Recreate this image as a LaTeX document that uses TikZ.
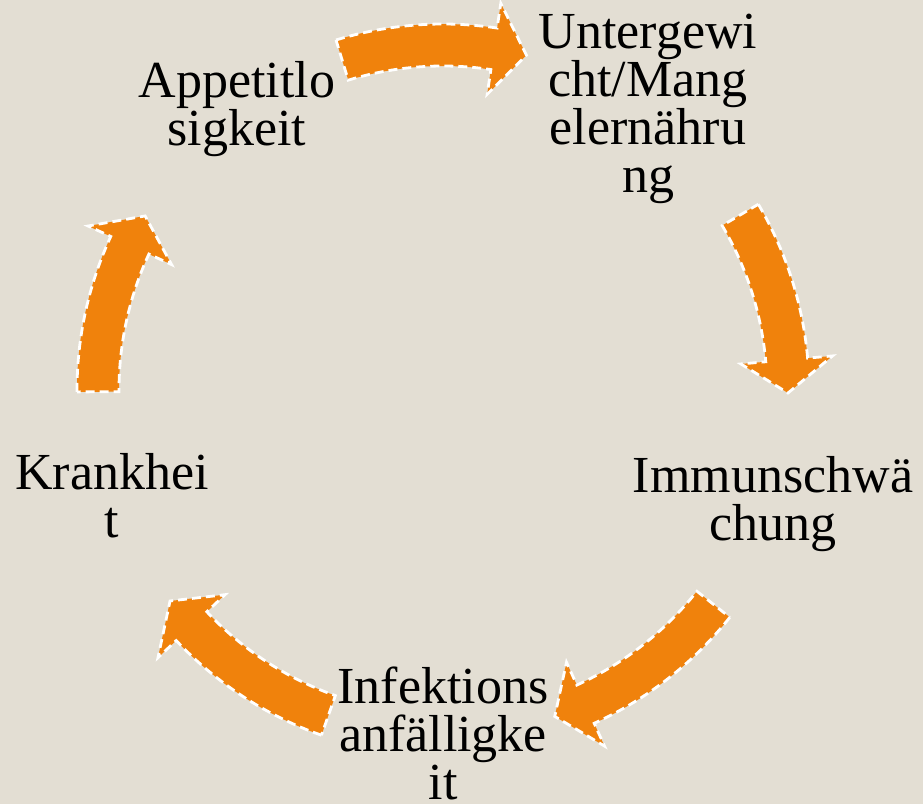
\documentclass[tikz,border=0pt]{standalone}
\usepackage{fontspec}
\setmainfont{Liberation Serif}
\definecolor{bgbeige}{RGB}{227,222,211}
\definecolor{arroworange}{RGB}{240,130,12}
\tikzset{
  cyclearrow/.style={fill=arroworange, draw=white, line width=2.8pt, dash pattern=on 9pt off 5pt, line join=miter},
  lbl/.style={align=center, anchor=base, inner sep=0pt, font=\fontsize{52}{48}\selectfont, text=black}
}
\newcommand{\cycarrow}[2]{% tail angle, tip angle
  \pgfmathsetmacro{\bangle}{#2+5.5}
  \path[cyclearrow] (#1:366) arc[start angle=#1, end angle=\bangle, radius=366]
    -- (\bangle:391) -- (#2:345) -- (\bangle:299) -- (\bangle:324)
    arc[start angle=\bangle, end angle=#1, radius=324] -- cycle;
}
\begin{document}
\begin{tikzpicture}[x=1pt,y=1pt]
\useasboundingbox (0,0) rectangle (923,804);
\fill[bgbeige] (0,0) rectangle (923,804);
\begin{scope}[shift={(443,414)}]
  \cycarrow{107}{76}
  \cycarrow{30.5}{-0.5}
  \cycarrow{-38.4}{-71.1}
  \cycarrow{-109.4}{-142.3}
  \cycarrow{-179.7}{-210.3}
\end{scope}
\node[lbl] (appetit) at (237,658) {Appetitlo\\sigkeit};
\node[lbl] (unter) at (648,611) {Untergewi\\cht/Mang\\elernähru\\ng};
\node[lbl] (immun) at (773,264) {Immunschwä\\chung};
\node[lbl] (infekt) at (443,5) {Infektions\\anfälligke\\it};
\node[lbl] (krank) at (112,267) {Krankhei\\t};
\end{tikzpicture}
\end{document}
